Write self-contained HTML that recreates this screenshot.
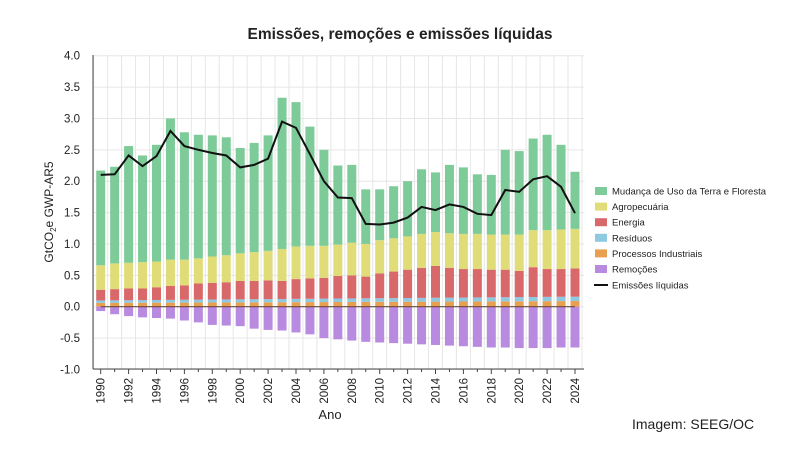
<!DOCTYPE html><html><head><meta charset="utf-8"><style>body{margin:0;background:#fff}svg{display:block;font-family:"Liberation Sans",sans-serif}</style></head><body>
<svg id="s" width="800" height="450" xmlns="http://www.w3.org/2000/svg"></svg>
<script>
const T=[2.17,2.23,2.56,2.41,2.58,3.0,2.78,2.74,2.73,2.70,2.53,2.61,2.73,3.33,3.26,2.87,2.50,2.25,2.26,1.87,1.87,1.92,2.0,2.19,2.14,2.26,2.22,2.11,2.10,2.50,2.48,2.68,2.74,2.58,2.15];
const A=[0.66,0.69,0.70,0.71,0.72,0.75,0.75,0.77,0.80,0.82,0.85,0.87,0.89,0.92,0.96,0.97,0.97,0.99,1.02,1.00,1.06,1.09,1.12,1.16,1.19,1.17,1.16,1.16,1.15,1.15,1.15,1.22,1.22,1.23,1.24];
const E=[0.27,0.28,0.29,0.29,0.31,0.33,0.34,0.37,0.38,0.39,0.41,0.41,0.42,0.41,0.44,0.45,0.46,0.49,0.50,0.48,0.53,0.56,0.59,0.62,0.65,0.62,0.60,0.60,0.59,0.59,0.57,0.63,0.60,0.60,0.61];
const R=[-0.07,-0.12,-0.15,-0.17,-0.18,-0.19,-0.22,-0.25,-0.29,-0.30,-0.31,-0.35,-0.37,-0.38,-0.41,-0.44,-0.50,-0.52,-0.54,-0.56,-0.57,-0.58,-0.59,-0.60,-0.61,-0.62,-0.63,-0.64,-0.65,-0.65,-0.66,-0.66,-0.66,-0.65,-0.65];
const N=[2.10,2.11,2.41,2.24,2.40,2.80,2.56,2.50,2.45,2.41,2.22,2.26,2.36,2.95,2.85,2.43,2.00,1.74,1.73,1.32,1.31,1.34,1.42,1.59,1.54,1.63,1.59,1.48,1.46,1.86,1.83,2.03,2.08,1.91,1.49];
const y=v=>306.7-v*62.75, x=i=>100.7+i*13.95;
let h='<text x="400" y="39" text-anchor="middle" font-size="15.5" font-weight="bold" fill="#222">Emissões, remoções e emissões líquidas</text>';
for(let v=-1;v<=4.001;v+=0.5){h+=`<line x1="93" x2="584" y1="${y(v)}" y2="${y(v)}" stroke="#e6e6e6"/><text x="80" y="${y(v)+4}" text-anchor="end" font-size="11.5" fill="#222">${v.toFixed(1)}</text>`;}
for(let i=0;i<=35;i++){let gx=x(i)-7;h+=`<line x1="${gx}" x2="${gx}" y1="55" y2="369" stroke="#e6e6e6"/>`;}
function r(i,a,b,c){h+=`<rect x="${x(i)-4.5}" y="${y(Math.max(a,b))}" width="9" height="${Math.abs(a-b)*62.75}" fill="${c}"/>`;}
for(let i=0;i<35;i++){const res=0.10+0.06*i/34,pr=0.06+0.03*i/34;
r(i,0,pr,'#e8a050');r(i,pr,res,'#8ec9e0');r(i,res,E[i],'#d9686a');r(i,E[i],A[i],'#e0dc78');r(i,A[i],T[i],'#7ecb9a');r(i,0,R[i],'#b98be0');
if(i%2==0)h+=`<text transform="translate(${x(i)+4},378) rotate(-90)" text-anchor="end" font-size="11.5" fill="#222">${1990+i}</text>`;
h+=`<line x1="${x(i)}" x2="${x(i)}" y1="369" y2="${i%2?372:374}" stroke="#444"/>`;}
h+=`<line x1="${x(0)}" x2="${x(34)}" y1="${y(0)}" y2="${y(0)}" stroke="#6b4a3a" stroke-width="1.2"/>`;
h+=`<polyline fill="none" stroke="#111" stroke-width="2" points="${N.map((v,i)=>x(i)+','+y(v)).join(' ')}"/>`;
h+='<line x1="93" x2="93" y1="55" y2="369" stroke="#444"/><line x1="93" x2="584" y1="369" y2="369" stroke="#444"/>';
h+='<text x="330" y="419" text-anchor="middle" font-size="13" fill="#222">Ano</text>';
h+='<text transform="translate(53,212) rotate(-90)" text-anchor="middle" font-size="12" fill="#222">GtCO<tspan font-size="8" dy="3">2</tspan><tspan dy="-3">e GWP-AR5</tspan></text>';
const L=[['#7ecb9a','Mudança de Uso da Terra e Floresta'],['#e0dc78','Agropecuária'],['#d9686a','Energia'],['#8ec9e0','Resíduos'],['#e8a050','Processos Industriais'],['#b98be0','Remoções']];
L.forEach((l,k)=>{const ly=191+k*15.6;h+=`<rect x="595" y="${ly-4}" width="12" height="8" fill="${l[0]}"/><text x="612" y="${ly+3.5}" font-size="9.5" fill="#222">${l[1]}</text>`;});
h+='<line x1="594" x2="608" y1="285" y2="285" stroke="#111" stroke-width="2"/><text x="612" y="288.5" font-size="9.5" fill="#222">Emissões líquidas</text>';
h+='<text x="632" y="429" font-size="14" fill="#222">Imagem: SEEG/OC</text>';
document.getElementById('s').innerHTML=h;
</script></body></html>
